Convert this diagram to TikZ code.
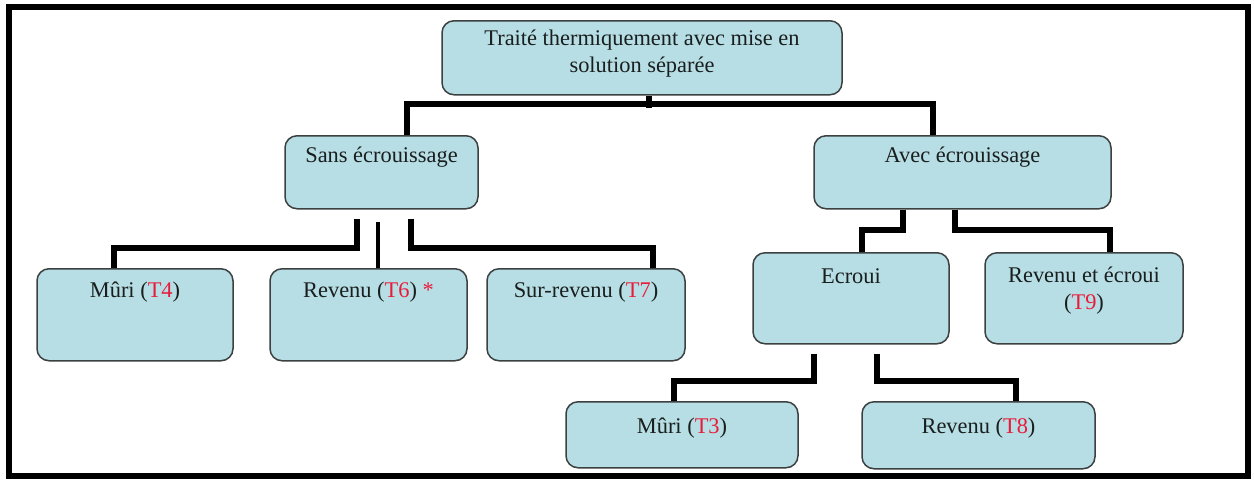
\documentclass[tikz,border=0pt]{standalone}
\usepackage{fontspec}
\setmainfont{Liberation Serif}
\definecolor{boxfill}{RGB}{183,222,228}
\definecolor{boxline}{RGB}{60,64,64}
\definecolor{tred}{RGB}{232,28,58}
\definecolor{tdark}{RGB}{25,30,30}
\newcommand{\bt}[4]{\parbox[c][#2][t]{#1}{\centering\vspace*{#3}\strut #4}}
\newcommand{\TT}[1]{\textcolor{tred}{#1}}
\tikzset{
  tbox/.style={draw=boxline, fill=boxfill, line width=0.75pt, rounded corners=6pt,
    inner sep=0pt, anchor=north, font=\fontsize{11.2}{13.4}\selectfont, text=tdark},
  conn/.style={line width=3pt, black},
  thinconn/.style={line width=1.6pt, black},
  frame/.style={line width=2.6pt, black},
}
\begin{document}
\begin{tikzpicture}[x=0.5pt, y=-0.5pt]
\useasboundingbox (0,0) rectangle (1254,479);
\draw[frame] (9,7) rectangle (1248,476);

\node[tbox] (top) at (642,20) {\bt{200pt}{37pt}{3.1pt}{Traité thermiquement avec mise en\\solution séparée}};
\node[tbox] (sans) at (381.5,135) {\bt{96.5pt}{36.5pt}{4.1pt}{Sans écrouissage}};
\node[tbox] (avec) at (962.5,135) {\bt{148.5pt}{36.5pt}{4.1pt}{Avec écrouissage}};
\node[tbox] (muri4) at (135,268) {\bt{98pt}{46pt}{5.1pt}{Mûri (\TT{T4})}};
\node[tbox] (rev6) at (368.5,268) {\bt{98.5pt}{46pt}{5.1pt}{Revenu (\TT{T6}) \TT{*}}};
\node[tbox] (sur) at (586,268) {\bt{99pt}{46pt}{5.1pt}{Sur-revenu (\TT{T7})}};
\node[tbox] (ecroui) at (851,252) {\bt{98pt}{45.5pt}{6.1pt}{Ecroui}};
\node[tbox] (revet) at (1084,252) {\bt{99pt}{45.5pt}{5.6pt}{Revenu et écroui\\(\TT{T9})}};
\node[tbox] (muri3) at (682,401) {\bt{116pt}{33pt}{6.6pt}{Mûri (\TT{T3})}};
\node[tbox] (rev8) at (978.5,401) {\bt{116.5pt}{33.5pt}{6.6pt}{Revenu (\TT{T8})}};

% top level
\draw[conn] ([xshift=3.5pt]top.south) -- ++(0,12);
\draw[conn] ([xshift=12.75pt]sans.north) -- ++(0,-31) -| ([xshift=-14.75pt]avec.north);

% sans ecrouissage children
\draw[conn] ([shift={(-24.5,9)}]sans.south) -- ++(0,29) -| ([xshift=-10.5pt]muri4.north);
\draw[thinconn] ([shift={(-3.5,12)}]sans.south) -- ([xshift=4.75pt]rev6.north);
\draw[conn] ([shift={(29.5,9)}]sans.south) -- ++(0,29) -| ([xshift=33.5pt]sur.north);

% avec ecrouissage children
\draw[conn] ([xshift=-29.75pt]avec.south) -- ++(0,20) -| ([xshift=5.5pt]ecroui.north);
\draw[conn] ([xshift=-3.75pt]avec.south) -- ++(0,20) -| ([xshift=13pt]revet.north);

% ecroui children
\draw[conn] ([shift={(-37,9)}]ecroui.south) -- ++(0,27) -| ([xshift=-4pt]muri3.north);
\draw[conn] ([shift={(26,9)}]ecroui.south) -- ++(0,27) -| ([xshift=18.75pt]rev8.north);
\end{tikzpicture}
\end{document}
